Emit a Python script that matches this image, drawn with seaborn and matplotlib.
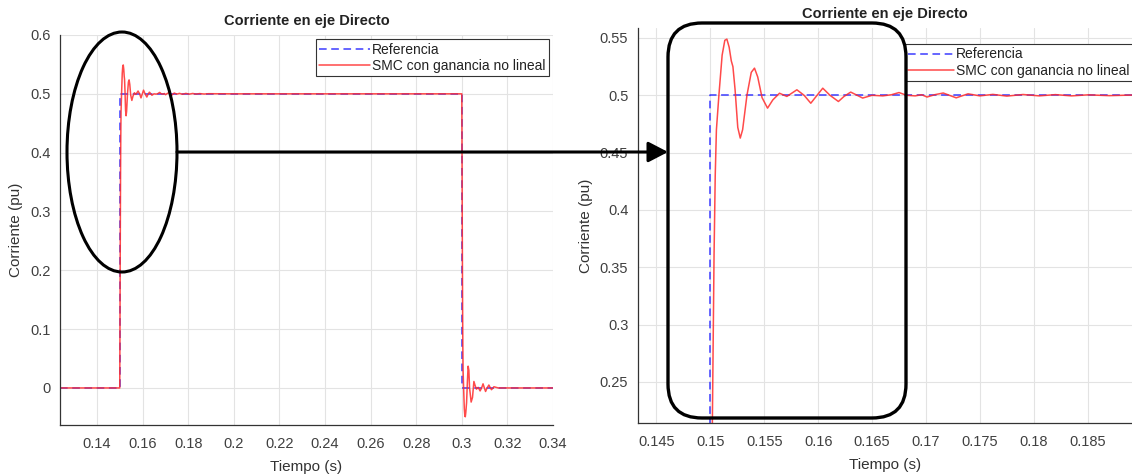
import numpy as np
import pandas as pd
import matplotlib
matplotlib.use("Agg")
import matplotlib.pyplot as plt
import seaborn as sns
from matplotlib.patches import Ellipse, FancyBboxPatch, FancyArrowPatch

# ---------------- data ----------------
ref_t = [0.1238, 0.15, 0.15, 0.30, 0.30, 0.34]
ref_v = [0.0, 0.0, 0.5, 0.5, 0.0, 0.0]

smc_t = [0.1238, 0.1500, 0.1501, 0.1502, 0.15035, 0.15046, 0.15057, 0.15080,
         0.15110, 0.15135, 0.15154, 0.15175, 0.15195, 0.15210, 0.15230,
         0.15255, 0.15278, 0.15300, 0.15340, 0.15380, 0.15410, 0.15440,
         0.15480, 0.15531, 0.15580, 0.15642, 0.1571, 0.15803, 0.15870,
         0.15932, 0.1599, 0.16043, 0.1611, 0.16188, 0.1624, 0.16302,
         0.16413, 0.1650, 0.1660, 0.1668, 0.1675, 0.1682, 0.1690, 0.1696,
         0.1701, 0.1708, 0.1716, 0.1728, 0.1739, 0.1750, 0.1762, 0.1775,
         0.1790, 0.1805, 0.1820, 0.1835, 0.1850, 0.1870, 0.1890, 0.2000,
         0.3000, 0.3001, 0.3002, 0.30035, 0.30046, 0.30057, 0.3008, 0.3011,
         0.30135, 0.30154, 0.30175, 0.3021, 0.30245, 0.30278, 0.3031,
         0.30341, 0.3041, 0.30470, 0.30531, 0.30585, 0.30642, 0.30720,
         0.30803, 0.30870, 0.30932, 0.3099, 0.31043, 0.3111, 0.31188,
         0.3124, 0.31302, 0.3141, 0.3160, 0.3200, 0.3400]
smc_v = [0.0, 0.0, 0.10, 0.22, 0.36, 0.43, 0.47, 0.50,
         0.535, 0.548, 0.549, 0.542, 0.530, 0.525, 0.505,
         0.472, 0.4627, 0.470, 0.500, 0.520, 0.5237, 0.516,
         0.498, 0.4888, 0.496, 0.5018, 0.499, 0.5048, 0.500,
         0.4931, 0.500, 0.5062, 0.500, 0.4946, 0.499, 0.5028,
         0.4976, 0.500, 0.4995, 0.5005, 0.5024, 0.500, 0.4995, 0.5005,
         0.4985, 0.5005, 0.502, 0.4978, 0.5013, 0.4995, 0.5008, 0.4993,
         0.5007, 0.4995, 0.5006, 0.4995, 0.5004, 0.4997, 0.5002, 0.500,
         0.500, 0.40, 0.28, 0.14, 0.07, 0.03, 0.0, -0.035,
         -0.048, -0.049, -0.042, -0.025, 0.010, 0.037, 0.030,
         0.000, -0.024, -0.016, 0.011, 0.004, -0.002, 0.001,
         -0.005, 0.000, 0.007, 0.000, -0.006, 0.000, 0.005,
         0.001, -0.003, 0.002, 0.000, 0.000, 0.000]

left_xticks = [0.14, 0.16, 0.18, 0.2, 0.22, 0.24, 0.26, 0.28, 0.3, 0.32, 0.34]
left_xlabels = ["0.14", "0.16", "0.18", "0.2", "0.22", "0.24", "0.26", "0.28", "0.3", "0.32", "0.34"]
left_yticks = [0, 0.1, 0.2, 0.3, 0.4, 0.5, 0.6]
left_ylabels = ["0", "0.1", "0.2", "0.3", "0.4", "0.5", "0.6"]
right_xticks = [0.145, 0.15, 0.155, 0.16, 0.165, 0.17, 0.175, 0.18, 0.185]
right_xlabels = ["0.145", "0.15", "0.155", "0.16", "0.165", "0.17", "0.175", "0.18", "0.185"]
right_yticks = [0.25, 0.3, 0.35, 0.4, 0.45, 0.5, 0.55]
right_ylabels = ["0.25", "0.3", "0.35", "0.4", "0.45", "0.5", "0.55"]

title = "Corriente en eje Directo"
xlabel = "Tiempo (s)"
ylabel = "Corriente (pu)"
ref_name = "Referencia"
smc_name = "SMC con ganancia no lineal"

# ---------------- style ----------------
sns.set_theme(style="whitegrid")
plt.rcParams["font.family"] = ["Liberation Sans", "DejaVu Sans"]

W, H = 1132, 474
fig = plt.figure(figsize=(W / 100, H / 100), dpi=100)
fig.patch.set_facecolor("white")

def px_axes(l, t, r, b):
    return fig.add_axes([l / W, (H - b) / H, (r - l) / W, (b - t) / H])

ax1 = px_axes(60, 35, 553, 425)
ax2 = px_axes(638, 28, 1132, 423)

df_ref = pd.DataFrame({"t": ref_t, "v": ref_v})
df_smc = pd.DataFrame({"t": smc_t, "v": smc_v})

BLUE = "#3c3cff"
RED = "#ff2a2a"

for ax in (ax1, ax2):
    ax.set_facecolor("white")
    sns.lineplot(data=df_ref, x="t", y="v", ax=ax, estimator=None, sort=False,
                 color=BLUE, lw=1.1, label=ref_name)
    ax.lines[-1].set_linestyle((0, (5, 3)))
    sns.lineplot(data=df_smc, x="t", y="v", ax=ax, estimator=None, sort=False,
                 color=RED, lw=1.1, alpha=0.85, label=smc_name)
    ax.grid(True, color="#e3e3e3", lw=0.8)
    for s in ("top", "right"):
        ax.spines[s].set_visible(False)
    for s in ("left", "bottom"):
        ax.spines[s].set_color("#333333")
        ax.spines[s].set_linewidth(0.9)
    ax.tick_params(direction="in", length=4, width=0.8, colors="#333333",
                   labelcolor="#404040", labelsize=10.5)
    ax.tick_params(axis="x", pad=9)
    ax.tick_params(axis="y", pad=7)
    ax.set_xlabel(xlabel, fontsize=11, color="#333333", labelpad=6)
    ax.set_ylabel(ylabel, fontsize=11, color="#333333", labelpad=5)
    ax.set_title(title, fontsize=10.5, fontweight="bold", color="#222222", pad=7)

ax1.set_xlim(0.1238, 0.34)
ax1.set_ylim(-0.063, 0.6)
ax1.set_xticks(left_xticks, left_xlabels)
ax1.set_yticks(left_yticks, left_ylabels)

ax2.set_xlim(0.1433, 0.1891)
ax2.set_ylim(0.2142, 0.5587)
ax2.set_xticks(right_xticks, right_xlabels)
ax2.set_yticks(right_yticks, right_ylabels)

leg_kw = dict(fontsize=10, frameon=True, fancybox=False, framealpha=1,
              edgecolor="#333333", borderpad=0.25, labelspacing=0.15,
              handletextpad=0.1)
l1 = ax1.legend(loc="upper right", handlelength=3.7, borderaxespad=0.3, **leg_kw)
l2 = ax2.legend(loc="upper left", bbox_to_anchor=((905 - 638) / 494, (423 - 44) / 395),
                borderaxespad=0, handlelength=3.3, **leg_kw)
for lg in (l1, l2):
    lg.get_frame().set_linewidth(0.8)
    for txt in lg.get_texts():
        txt.set_color("#222222")

# ---------------- annotations (overlay in pixel coordinates) ----------------
ov = fig.add_axes([0, 0, 1, 1], facecolor="none")
ov.set_xlim(0, W)
ov.set_ylim(0, H)
ov.axis("off")

def fy(y):
    return H - y

ov.add_patch(Ellipse((122, fy(152)), 110, 240, fill=False, ec="black", lw=2.2))
ov.add_patch(FancyBboxPatch((668, fy(418)), 238, 395,
                            boxstyle="round,pad=0,rounding_size=34",
                            fill=False, ec="black", lw=2.4))
ov.add_patch(FancyArrowPatch((177, fy(152)), (668, fy(152)),
                             arrowstyle="-|>,head_length=5,head_width=2.6",
                             mutation_scale=2.4, color="black", lw=2.2,
                             shrinkA=0, shrinkB=0))

fig.savefig("out.png", dpi=100, facecolor="white")
